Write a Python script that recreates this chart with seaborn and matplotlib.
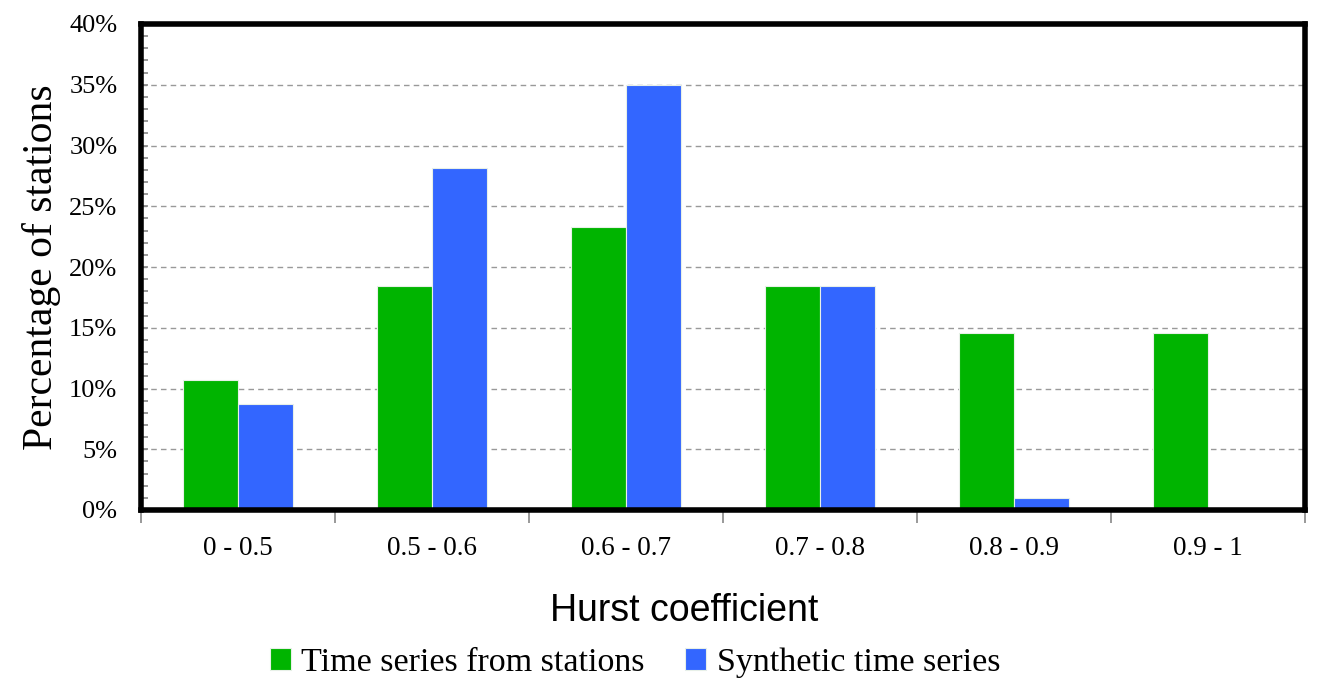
import matplotlib
matplotlib.use("Agg")
import matplotlib.pyplot as plt
import seaborn as sns
import pandas as pd
from matplotlib.ticker import FixedLocator, MultipleLocator, FuncFormatter

categories = ["0 - 0.5", "0.5 - 0.6", "0.6 - 0.7", "0.7 - 0.8", "0.8 - 0.9", "0.9 - 1"]
stations = [10.68, 18.45, 23.30, 18.45, 14.56, 14.56]
synthetic = [8.74, 28.16, 34.95, 18.45, 0.97, 0.0]
series_names = ["Time series from stations", "Synthetic time series"]
colors = ["#00B400", "#3366FF"]

df = pd.DataFrame({
    "cat": categories * 2,
    "val": stations + synthetic,
    "series": [series_names[0]] * len(categories) + [series_names[1]] * len(categories),
})

sns.set_style("white")
plt.rcParams["font.family"] = ["Liberation Serif", "DejaVu Serif"]
plt.rcParams["text.color"] = "black"
plt.rcParams["axes.labelcolor"] = "black"
plt.rcParams["xtick.labelcolor"] = "black"
plt.rcParams["ytick.labelcolor"] = "black"

fig = plt.figure(figsize=(13.17, 6.81), dpi=100)
ax = fig.add_axes([141/1317, 1 - 510/681, (1305 - 141)/1317, (510 - 24)/681])

sns.barplot(data=df, x="cat", y="val", hue="series", order=categories,
            hue_order=series_names, palette=colors, width=0.57, ax=ax,
            edgecolor="#e8f0e8", linewidth=0.8, saturation=1, errorbar=None, legend=True)

ax.set_ylim(0, 40)
ax.set_xlim(-0.5, len(categories) - 0.5)
ax.yaxis.set_major_locator(MultipleLocator(5))
ax.yaxis.set_minor_locator(MultipleLocator(1))
ax.yaxis.set_major_formatter(FuncFormatter(lambda v, p: f"{int(v)}%"))
ax.grid(axis="y", which="major", linestyle=(0, (4, 3)), color="#999999", linewidth=1)
ax.set_axisbelow(True)

ax.tick_params(axis="y", which="both", direction="in", color="#888888", length=5, width=1.2,
               labelsize=19, pad=17, left=True)
ax.xaxis.set_minor_locator(FixedLocator([i - 0.5 for i in range(len(categories) + 1)]))
ax.tick_params(axis="x", which="minor", direction="out", color="#888888", length=9, width=1.2, bottom=True)
ax.tick_params(axis="x", which="major", length=0, labelsize=19.5, pad=19)

for s in ax.spines.values():
    s.set_visible(True)
    s.set_color("black")
    s.set_linewidth(4)

ax.set_ylabel("Percentage of stations", fontsize=30, labelpad=6)
ax.set_xlabel("Hurst coefficient", fontsize=27, family=["Liberation Sans", "DejaVu Sans"], labelpad=22)
ax.xaxis.set_label_coords((684 - 141) / 1164, -0.17)

handles, labels = ax.get_legend_handles_labels()
ax.legend(handles, labels, loc="lower center", bbox_to_anchor=(0.482, 0.004),
          bbox_transform=fig.transFigure, ncol=2, frameon=False, fontsize=24.5,
          handlelength=0.62, handleheight=0.62, handletextpad=0.3, columnspacing=1.2,
          borderaxespad=0.0, borderpad=0.0)

fig.savefig("out.png", dpi=100)
